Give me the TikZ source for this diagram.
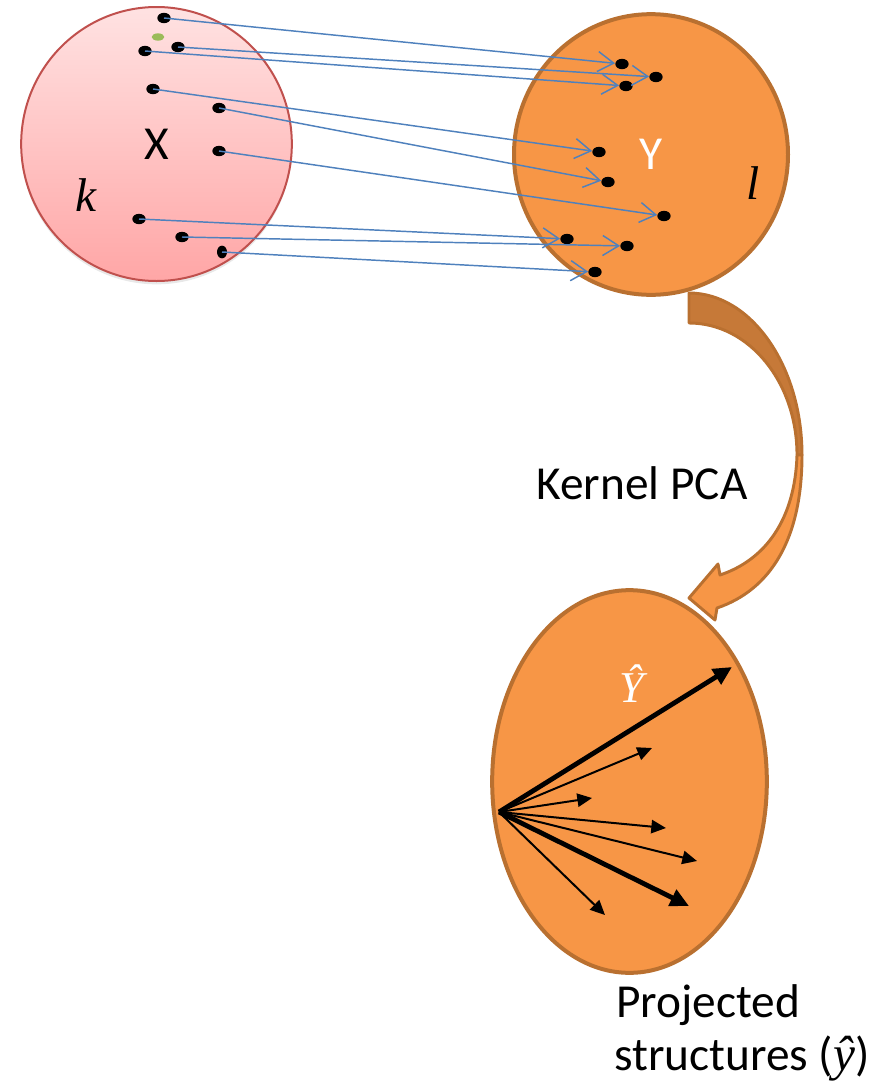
\documentclass[tikz,border=0pt]{standalone}
\usepackage{fontspec}
\setmainfont{Carlito}
\newfontfamily\serifit{Liberation Serif}
\usetikzlibrary{arrows.meta,shapes.geometric,shadows}

\definecolor{pinktop}{RGB}{255,226,226}
\definecolor{pinkbot}{RGB}{255,166,166}
\definecolor{pinkline}{RGB}{192,80,77}
\definecolor{orangefill}{RGB}{247,150,70}
\definecolor{orangeline}{RGB}{185,112,48}
\definecolor{orangedark}{RGB}{198,121,56}
\definecolor{linkblue}{RGB}{79,129,189}
\definecolor{leafgreen}{RGB}{155,187,89}

\tikzset{
  lbl/.style={font=\fontsize{35.5}{42}\selectfont, inner sep=0pt},
  dotnode/.style={ellipse, fill=black, draw=none, inner sep=0pt,
    minimum width=10pt, minimum height=7.8pt},
  link/.style={draw=linkblue, line width=1.1pt,
    -{Straight Barb[length=12pt,width=15pt,line width=1.1pt]}},
  thinvec/.style={draw=black, line width=1.5pt,
    -{Triangle[length=11pt,width=10pt]}},
  thickvec/.style={draw=black, line width=3.6pt,
    -{Triangle[length=14pt,width=13pt]}},
  setX/.style={ellipse, draw=pinkline, line width=1.5pt,
    top color=pinktop, bottom color=pinkbot,
    minimum width=203pt, minimum height=205.5pt, inner sep=0pt,
    drop shadow={opacity=0.18, shadow xshift=0pt, shadow yshift=-2.5pt}},
  setY/.style={ellipse, draw=orangeline, line width=3pt, fill=orangefill,
    inner sep=0pt},
  bendback/.style={draw=orangeline, line width=2.2pt, fill=orangedark,
    line join=round},
  bendfront/.style={draw=orangeline, line width=2.2pt, fill=orangefill,
    line join=round},
}

\begin{document}
\begin{tikzpicture}[x=0.75pt, y=-0.75pt]
\useasboundingbox (0,0) rectangle (883,1082);

% input space X
\node[setX, lbl] (X) at (156.5,144) {\raisebox{-1.5pt}{X}};
\node[lbl] (k) at (86,195) {{\serifit\itshape k}};
\node[ellipse, fill=leafgreen, inner sep=0pt, minimum width=9.5pt,
      minimum height=5.5pt] (g) at (158,37) {};

% output space Y
\node[setY, minimum width=205.5pt, minimum height=210.5pt, lbl,
      text=white] (Y) at (651,154.5) {Y};
\node[lbl] (l) at (753,183) {{\serifit\itshape l}};

% points in X
\node[dotnode] (p1) at (164,18) {};
\node[dotnode] (p2) at (178,47) {};
\node[dotnode] (p3) at (145,51) {};
\node[dotnode] (p4) at (153,89) {};
\node[dotnode] (p5) at (219,108) {};
\node[dotnode] (p6) at (219,151) {};
\node[dotnode] (p7) at (139,219) {};
\node[dotnode] (p8) at (182,237) {};
\node[dotnode, minimum width=7.5pt, minimum height=9.5pt] (p9) at (222,252) {};

% points in Y
\node[dotnode] (q1) at (622,64) {};
\node[dotnode] (q2) at (656,77) {};
\node[dotnode] (q3) at (626,86) {};
\node[dotnode] (q4) at (599,152) {};
\node[dotnode] (q5) at (608,182) {};
\node[dotnode] (q6) at (664,216) {};
\node[dotnode] (q7) at (567,239) {};
\node[dotnode] (q8) at (627,246) {};
\node[dotnode] (q9) at (595,272) {};

% mapping X -> Y
\draw[link] (p1.center) -- (q1);
\draw[link] (p2.center) -- (q2);
\draw[link] (p3.center) -- (q3);
\draw[link] (p4.center) -- (q4);
\draw[link] (p5.center) -- (q5);
\draw[link] (p6.center) -- (q6);
\draw[link] (p7.center) -- (q7);
\draw[link] (p8.center) -- (q8);
\draw[link] (p9.center) -- (q9);

% curved arrow: back face, then front face with head
\draw[bendback] (689,293) .. controls (751,293) and (802,366) .. (802,455)
  -- (797,455) .. controls (797,382) and (749,323) .. (689,323) -- cycle;
\draw[bendfront] (797,455) .. controls (795,520) and (765,560) .. (720,575)
  -- (718,564) -- (689,598) -- (715,620) -- (717,608)
  .. controls (770,590) and (802,540) .. (802,455) -- cycle;
\node[lbl] (kpca) at (642,483) {Kernel PCA};

% projected space
\node[setY, minimum width=206pt, minimum height=287pt] (P) at (629.5,781.5) {};
\node[font=\fontsize{33}{38}\selectfont, inner sep=0pt, text=white] (yhat)
  at (632,684) {{\serifit\itshape Ŷ}};

\coordinate (O) at (499,812);
\coordinate (v1) at (732,667);
\coordinate (v2) at (652,748);
\coordinate (v3) at (592,798);
\coordinate (v4) at (666,828);
\coordinate (v5) at (697,861);
\coordinate (v6) at (689,906);
\coordinate (v7) at (605,915);
\draw[thickvec] (O) -- (v1);
\draw[thinvec] (O) -- (v2);
\draw[thinvec] (O) -- (v3);
\draw[thinvec] (O) -- (v4);
\draw[thinvec] (O) -- (v5);
\draw[thickvec] (O) -- (v6);
\draw[thinvec] (O) -- (v7);

\node[lbl, anchor=base west] (proj1) at (616,1017) {Projected};
\node[lbl, anchor=base west] (proj2) at (614,1070)
  {structures ({\serifit\itshape\fontsize{37}{42}\selectfont ŷ})};
\end{tikzpicture}
\end{document}
